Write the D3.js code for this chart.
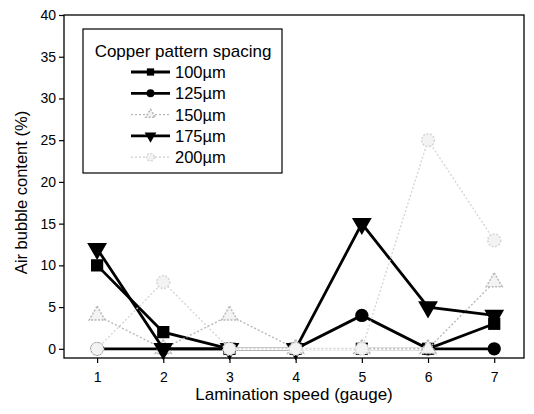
<!DOCTYPE html>
<html>
<head>
<meta charset="utf-8">
<script src="https://cdn.jsdelivr.net/npm/d3@7"></script>
<style>
  body { margin: 0; background: #fff; }
  svg { font-family: Arial, "Liberation Sans", sans-serif; }
</style>
</head>
<body>
<div id="chart"></div>
<script>
// Data
var speeds = [1, 2, 3, 4, 5, 6, 7];
var yTicks = [0, 5, 10, 15, 20, 25, 30, 35, 40];
var s100 = [10, 2, 0, 0, 0, 0, 3];
var s125 = [0, 0, 0, 0, 4, 0, 0];
var s150 = [4, 0, 4, 0, 0, 0, 8];
var s175 = [12, 0, 0, 0, 15, 5, 4];
var s200 = [0, 8, 0, 0, 0, 25, 13];

var series = [
    { name: "100\u00b5m", values: s100, symbol: d3.symbolSquare, color: "#000", size: 150 },
    { name: "125\u00b5m", values: s125, symbol: d3.symbolCircle, color: "#000", size: 140 },
    { name: "150\u00b5m", values: s150, symbol: d3.symbolTriangle, color: "#b8b8b8", gray: true, size: 110 },
    { name: "175\u00b5m", values: s175, symbol: d3.symbolTriangle, color: "#000", size: 170, flip: true },
    { name: "200\u00b5m", values: s200, symbol: d3.symbolCircle, color: "#d6d6d6", gray: true, size: 130 }
];

var width = 534, height = 414;
var margin = { top: 15, right: 10, bottom: 56, left: 64 };

var svg = d3.select("#chart").append("svg")
    .attr("width", width)
    .attr("height", height);

var x = d3.scaleLinear().domain([0.5, 7.45]).range([margin.left, width - margin.right]);
var y = d3.scaleLinear().domain([-1.1, 40]).range([height - margin.bottom, margin.top]);

// frame
svg.append("rect")
    .attr("x", x(0.5)).attr("y", y(40))
    .attr("width", x(7.45) - x(0.5))
    .attr("height", y(-1.1) - y(40))
    .attr("fill", "none").attr("stroke", "#000").attr("stroke-width", 1.3);

// axes
var yAxis = svg.append("g")
    .attr("transform", "translate(" + x(0.5) + ",0)")
    .call(d3.axisLeft(y).tickValues(yTicks).tickSize(5).tickPadding(3));
var xAxis = svg.append("g")
    .attr("transform", "translate(0," + y(-1.1) + ")")
    .call(d3.axisBottom(x).tickValues(speeds).tickFormat(d3.format("d")).tickSize(5).tickPadding(9));
[yAxis, xAxis].forEach(function (g) {
    g.select(".domain").remove();
    g.selectAll("text").attr("font-size", 14).attr("fill", "#000")
        .attr("font-family", "Arial, 'Liberation Sans', sans-serif");
    g.selectAll("line").attr("stroke", "#000").attr("stroke-width", 1.2);
});

// axis titles
svg.append("text")
    .attr("x", (x(0.5) + x(7.45)) / 2).attr("y", 400)
    .attr("text-anchor", "middle").attr("font-size", 17)
    .text("Lamination speed (gauge)");
svg.append("text")
    .attr("transform", "translate(27," + ((y(40) + y(-1.1)) / 2 + 6) + ") rotate(-90)")
    .attr("text-anchor", "middle").attr("font-size", 16.5)
    .text("Air bubble content (%)");

var line = d3.line()
    .x(function (d, i) { return x(speeds[i]); })
    .y(function (d) { return y(d); });

function drawSymbol(g, s, cx, cy, scale) {
    var p = g.append("path")
        .attr("d", d3.symbol().type(s.symbol).size(s.size * (scale || 1))())
        .attr("transform", "translate(" + cx + "," + cy + ")" + (s.flip ? " rotate(180)" : ""));
    if (s.gray) {
        p.attr("fill", "#f3f3f3").attr("stroke", s.color).attr("stroke-width", 1.5)
            .attr("stroke-dasharray", "2,1.5");
    } else {
        p.attr("fill", "#000");
    }
}

function drawLine(g, s, d) {
    if (s.gray) {
        g.append("path").attr("d", d).attr("fill", "none")
            .attr("stroke", s.color).attr("stroke-width", 1.4)
            .attr("stroke-dasharray", "2,2");
    } else {
        g.append("path").attr("d", d).attr("fill", "none")
            .attr("stroke", "#000").attr("stroke-width", 2.8);
    }
}

// series drawn in order, later ones on top
series.forEach(function (s) {
    var g = svg.append("g");
    if (s.gray) {
        // the light lines cover the black ones where they run along the zero line
        s.values.forEach(function (v, i) {
            if (i < s.values.length - 1 && v === 0 && s.values[i + 1] === 0) {
                g.append("line")
                    .attr("x1", x(speeds[i])).attr("x2", x(speeds[i + 1]))
                    .attr("y1", y(0)).attr("y2", y(0))
                    .attr("stroke", "#fff").attr("stroke-width", 3.2);
            }
        });
    }
    drawLine(g, s, line(s.values));
    s.values.forEach(function (v, i) {
        drawSymbol(g, s, x(speeds[i]), y(v));
    });
});

// legend
var lg = svg.append("g");
lg.append("rect")
    .attr("x", 83).attr("y", 29).attr("width", 199).attr("height", 144)
    .attr("fill", "#fff").attr("stroke", "#000").attr("stroke-width", 1.2);
lg.append("text")
    .attr("x", 183).attr("y", 57).attr("text-anchor", "middle").attr("font-size", 17)
    .text("Copper pattern spacing");
series.forEach(function (s, i) {
    var cy = 72 + i * 21.3;
    drawLine(lg, s, "M131," + cy + "H170");
    drawSymbol(lg, s, 150.5, cy, 0.35);
    lg.append("text")
        .attr("x", 175).attr("y", cy + 6).attr("font-size", 16.5)
        .text(s.name);
});
</script>
</body>
</html>
